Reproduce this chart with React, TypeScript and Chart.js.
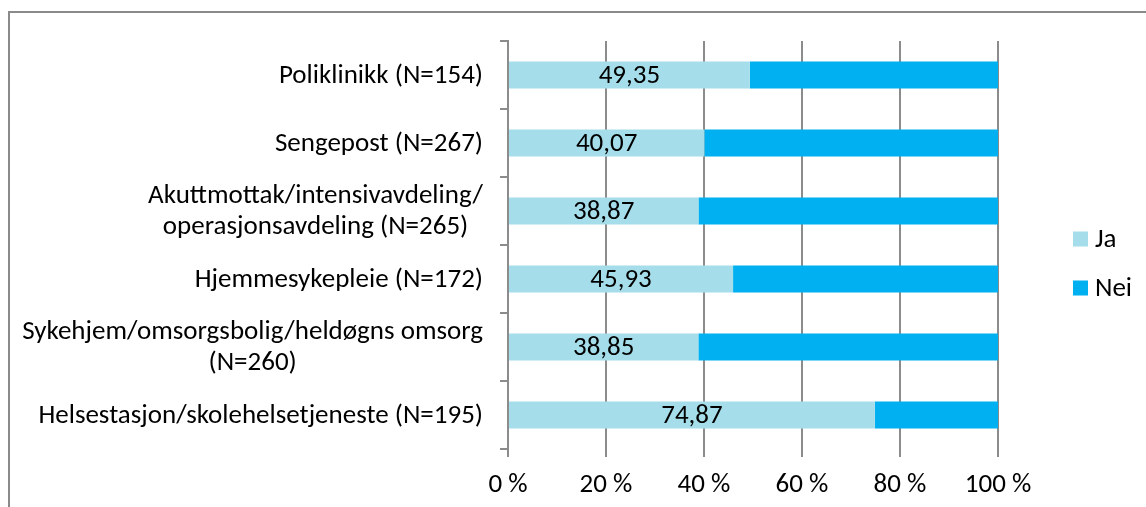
import React, { useEffect, useRef } from "react";
import { Chart, registerables } from "chart.js";

Chart.register(...registerables);

const categories: (string | string[])[] = [
  "Poliklinikk (N=154)",
  "Sengepost (N=267)",
  ["Akuttmottak/intensivavdeling/", "operasjonsavdeling (N=265)"],
  "Hjemmesykepleie (N=172)",
  ["Sykehjem/omsorgsbolig/heldøgns omsorg", "(N=260)"],
  "Helsestasjon/skolehelsetjeneste (N=195)",
];
const jaValues = [49.35, 40.07, 38.87, 45.93, 38.85, 74.87];
const neiValues = [50.65, 59.93, 61.13, 54.07, 61.15, 25.13];
const seriesNames = ["Ja", "Nei"];
const seriesColors = ["#A5DEEA", "#00B0F0"];
const xTicks = [0, 20, 40, 60, 80, 100];

const FF = 'Carlito, Lato, "Liberation Sans", sans-serif';
const FS = 27;
const LH = 31;
const GRID = "#8c8c8c";

const yLabelPlugin = {
  id: "yLabels",
  afterDraw(chart: any) {
    const ctx = chart.ctx;
    const ys = chart.scales.y;
    ctx.save();
    ctx.font = `${FS}px ${FF}`;
    ctx.fillStyle = "#000";
    ctx.textAlign = "center";
    ctx.textBaseline = "middle";
    const right = ys.right - 25;
    categories.forEach((lab, i) => {
      const lines = Array.isArray(lab) ? lab : [lab];
      const w = Math.max(...lines.map((l) => ctx.measureText(l).width));
      const cx = right - w / 2;
      const y0 = ys.getPixelForValue(i) - ((lines.length - 1) * LH) / 2;
      lines.forEach((l, j) => ctx.fillText(l, cx, y0 + j * LH + 1));
    });
    ctx.restore();
  },
};

const dataLabelPlugin = {
  id: "dataLabels",
  afterDatasetsDraw(chart: any) {
    const ctx = chart.ctx;
    const meta = chart.getDatasetMeta(0);
    ctx.save();
    ctx.font = `${FS}px ${FF}`;
    ctx.fillStyle = "#000";
    ctx.textAlign = "center";
    ctx.textBaseline = "middle";
    meta.data.forEach((el: any, i: number) => {
      const v = chart.data.datasets[0].data[i] as number;
      const txt = v.toFixed(2).replace(".", ",");
      ctx.fillText(txt, (el.x + el.base) / 2, el.y + 1);
    });
    ctx.restore();
  },
};

const legendPlugin = {
  id: "customLegend",
  afterDraw(chart: any) {
    const ctx = chart.ctx;
    const x0 = chart.chartArea.right + 75;
    const y0 = 239;
    const gap = 49;
    ctx.save();
    ctx.font = `${FS}px ${FF}`;
    ctx.textAlign = "left";
    ctx.textBaseline = "middle";
    chart.data.datasets.forEach((ds: any, i: number) => {
      const y = y0 + i * gap;
      ctx.fillStyle = ds.backgroundColor;
      ctx.fillRect(x0, y - 7.5, 15, 15);
      ctx.fillStyle = "#000";
      ctx.fillText(ds.label, x0 + 22, y + 1);
    });
    ctx.restore();
  },
};

export default function App() {
  const ref = useRef<HTMLCanvasElement>(null);
  useEffect(() => {
    if (!ref.current) return;
    const chart = new Chart(ref.current, {
      type: "bar",
      data: {
        labels: categories,
        datasets: [
          {
            label: seriesNames[0],
            data: jaValues,
            backgroundColor: seriesColors[0],
            categoryPercentage: 0.4,
            barPercentage: 1,
          },
          {
            label: seriesNames[1],
            data: neiValues,
            backgroundColor: seriesColors[1],
            categoryPercentage: 0.4,
            barPercentage: 1,
          },
        ],
      },
      options: {
        indexAxis: "y",
        animation: false,
        responsive: true,
        maintainAspectRatio: false,
        layout: { padding: { top: 41, right: 148, bottom: 0, left: 0 } },
        plugins: {
          legend: { display: false },
          tooltip: { enabled: false },
        },
        scales: {
          x: {
            stacked: true,
            min: 0,
            max: 100,
            afterBuildTicks: (s: any) => {
              s.ticks = xTicks.map((v) => ({ value: v }));
            },
            afterFit: (s: any) => {
              s.height = 58;
            },
            ticks: {
              callback: (v: any) => `${v} %`,
              color: "#000",
              font: { family: FF, size: FS },
              padding: 12,
              maxRotation: 0,
            },
            grid: {
              color: GRID,
              lineWidth: 2,
              tickLength: 8,
              drawTicks: true,
            },
            border: { display: false },
          },
          y: {
            stacked: true,
            afterFit: (s: any) => {
              s.width = 508;
            },
            ticks: { display: false },
            grid: {
              offset: true,
              drawOnChartArea: false,
              drawTicks: true,
              tickLength: 8,
              color: GRID,
              lineWidth: 2,
            },
            border: { display: true, color: GRID, width: 2 },
          },
        },
      },
      plugins: [yLabelPlugin, dataLabelPlugin, legendPlugin],
    });
    return () => chart.destroy();
  }, []);

  return (
    <div
      style={{
        position: "fixed",
        left: 0,
        top: 0,
        width: 1146,
        height: 507,
        overflow: "hidden",
        background: "#fff",
      }}
    >
      <div
        style={{
          position: "absolute",
          left: 8,
          top: 11,
          width: 1300,
          height: 700,
          border: `2px solid #8a8a8a`,
          boxSizing: "border-box",
        }}
      />
      <div style={{ position: "absolute", left: 0, top: 0, width: 1146, height: 507 }}>
        <canvas ref={ref} />
      </div>
    </div>
  );
}
